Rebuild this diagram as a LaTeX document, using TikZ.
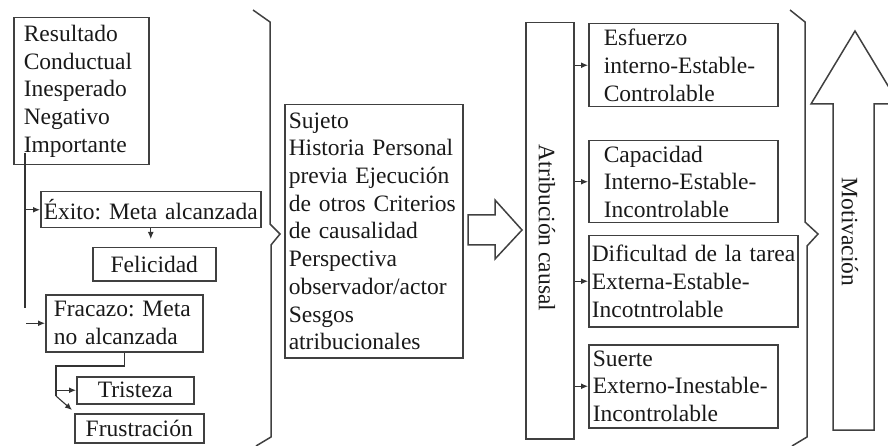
\documentclass[tikz,border=0pt]{standalone}
\usepackage{fontspec}
\setmainfont{Liberation Serif}
\usetikzlibrary{arrows.meta}
\frenchspacing
\newcommand{\oneline}[1]{\mbox{#1}}
\begin{document}
\begin{tikzpicture}[x=1pt,y=-1pt,
  every node/.style={font=\fontsize{23.5}{27.7}\selectfont, text=black!90},
  bx/.style={draw=black!75, line width=1.5pt, inner ysep=0pt, anchor=north west, align=left},
  bxc/.style={bx, align=center, inner xsep=0pt},
  lnst/.style={draw=black!80, line width=1.1pt},
  arr/.style={lnst, -{Latex[length=7pt,width=6pt]}},
  brace/.style={draw=black!75, line width=1.5pt},
  bigarrow/.style={draw=black!75, line width=1.5pt, line join=miter},
]
\useasboundingbox (0,0) rectangle (888,446);
\begin{scope}
\clip (0,0) rectangle (888,446);

% left column
\node[bx, inner xsep=10pt, minimum width=135pt, text width=115pt, minimum height=147pt] (res) at (13,17)
  {Resultado\\Conductual\\Inesperado\\Negativo\\Importante};
\node[bx, inner xsep=3pt, minimum width=220pt, text width=214pt, minimum height=36pt] (exi) at (40,191)
  {\oneline{Éxito: Meta alcanzada}};
\node[bxc, minimum width=123pt, text width=123pt, minimum height=33pt] (fel) at (92,247) {Felicidad};
\node[bx, inner xsep=8pt, minimum width=157pt, text width=141pt, minimum height=57pt] (fra) at (45,294)
  {\oneline{Fracazo: Meta}\\\oneline{no alcanzada}};
\node[bxc, minimum width=117pt, text width=117pt, minimum height=27pt] (tri) at (76,376) {Tristeza};
\node[bxc, minimum width=129pt, text width=129pt, minimum height=29pt] (fru) at (74,413) {Frustración};

% connectors left
\coordinate (v1) at (25,153);
\coordinate (v2) at (25,308);
\draw[lnst] (v1) -- (v2);
\draw[arr] (v1 |- exi.west) -- (exi.west);
\coordinate (v3) at (26,0);
\draw[arr] (v3 |- fra.west) -- (fra.west);
\draw[arr, shorten >=8pt] (exi.south) -- (exi.south |- fel.north);
\coordinate (f1) at (56,366);
\coordinate (f2) at (56,396);
\coordinate (f3) at (72,410);
\draw[lnst] (fra.south) |- (f1) -- (f2);
\draw[arr] (f1 |- tri.west) -- (tri.west);
\draw[arr] (f2) -- (f3);

% brace 1
\draw[brace, line join=miter] (253,10) -- (270,22) -- (270,224) -- (280,234) -- (271,245) -- (271,437) -- (256,446);

% middle box
\node[bx, inner xsep=4pt, minimum width=178pt, text width=170pt, minimum height=253pt] (suj) at (284,104)
  {Sujeto\\\oneline{Historia Personal}\\\oneline{previa Ejecución}\\\oneline{de otros Criterios}\\\oneline{de causalidad}\\Perspectiva\\\oneline{observador/actor}\\Sesgos\\atribucionales};

% block arrow
\draw[bigarrow] (468,215) -- (495,215) -- (495,200) -- (522,230) -- (495,259) -- (495,245) -- (468,245) -- cycle;

% atribucion causal
\node[bx, minimum width=48pt, minimum height=416pt, inner xsep=0pt] (atr) at (525,22) {};
\node[rotate=-90] (atrl) at (547,228) {Atribución causal};

% right boxes
\node[bx, inner xsep=15pt, minimum width=189pt, text width=159pt, minimum height=83pt] (esf) at (588,23)
  {Esfuerzo\\\oneline{interno-Estable-}\\Controlable};
\node[bx, inner xsep=15pt, minimum width=189pt, text width=159pt, minimum height=82pt] (cap) at (588,140)
  {Capacidad\\\oneline{Interno-Estable-}\\Incontrolable};
\node[bx, inner xsep=3pt, minimum width=209pt, text width=203pt, minimum height=91pt] (dif) at (588,235)
  {\oneline{Dificultad de la tarea}\\\oneline{Externa-Estable-}\\Incotntrolable};
\node[bx, inner xsep=4pt, minimum width=189pt, text width=181pt, minimum height=83pt] (sue) at (588,344)
  {Suerte\\\oneline{Externo-Inestable-}\\Incontrolable};

\draw[arr] (atr.east |- esf.west) -- (esf.west);
\draw[arr] (atr.east |- cap.west) -- (cap.west);
\draw[arr] (atr.east |- dif.west) -- (dif.west);
\draw[arr] (atr.east |- sue.west) -- (sue.west);

% brace 2
\draw[brace, line join=miter] (790,10) -- (805,22) -- (805,222) -- (818,234) -- (807,246) -- (807,437) -- (792,446);

% motivacion arrow
\draw[bigarrow] (833,430) -- (833,104) -- (811,104) -- (855,31) -- (899,104) -- (874,104) -- (874,430) -- cycle;
\node[rotate=-90] (motl) at (850,232) {Motivación};
\end{scope}
\end{tikzpicture}
\end{document}
